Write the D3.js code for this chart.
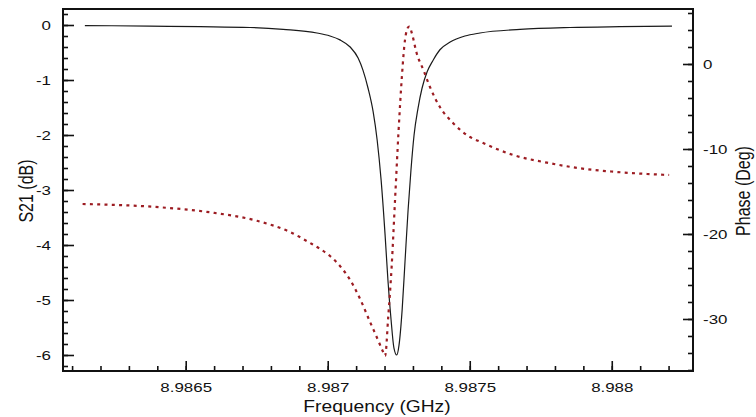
<!DOCTYPE html>
<html>
<head>
<meta charset="utf-8">
<script src="https://cdn.jsdelivr.net/npm/d3@7"></script>
<style>
  body { margin: 0; background: #fff; }
  text { font-family: "Liberation Sans", Arial, Helvetica, sans-serif; fill: #111; }
</style>
</head>
<body>
<script>
// S21 magnitude (dB) vs frequency (GHz)
const s21Freq = [8.986145, 8.986374, 8.98655, 8.986726, 8.986843, 8.986962, 8.987008, 8.987043,
  8.987079, 8.987107, 8.987124, 8.987142, 8.98716, 8.987174, 8.987188, 8.987202, 8.987212,
  8.987223, 8.987233, 8.987243, 8.987251, 8.987262, 8.987272, 8.987283, 8.987293, 8.987304,
  8.987318, 8.987332, 8.98735, 8.987371, 8.987395, 8.987431, 8.987483, 8.987536, 8.987677,
  8.987853, 8.988029, 8.988212];
const s21dB = [-0.01, -0.02, -0.03, -0.045, -0.08, -0.145, -0.2, -0.27,
  -0.4, -0.6, -0.82, -1.15, -1.58, -2.09, -2.82, -3.82, -4.64,
  -5.36, -5.87, -6.0, -5.82, -5.18, -4.31, -3.36, -2.64, -2.0,
  -1.51, -1.15, -0.85, -0.64, -0.45, -0.31, -0.2, -0.145, -0.08,
  -0.045, -0.03, -0.02];

// phase (deg) vs frequency (GHz)
const phaseFreq = [8.986137, 8.98641, 8.986586, 8.98675, 8.986867, 8.986938, 8.986973, 8.987008,
  8.987043, 8.987079, 8.987114, 8.987149, 8.987177, 8.987195, 8.987202, 8.987213, 8.987225,
  8.987237, 8.987249, 8.987261, 8.987272, 8.987284, 8.987288, 8.987296, 8.987313, 8.987337,
  8.98736, 8.987395, 8.987441, 8.987501, 8.987536, 8.987653, 8.987772, 8.987888, 8.988005,
  8.988124, 8.988202];
const phaseDeg = [-16.47, -16.86, -17.45, -18.44, -19.76, -21.06, -21.76, -22.59,
  -23.76, -25.41, -27.65, -30.35, -32.47, -33.88, -34.35, -29.76, -23.88,
  -16.0, -8.12, -1.53, 2.82, 4.35, 4.41, 3.65, 1.29, -0.71,
  -2.71, -5.06, -6.94, -8.59, -9.14, -10.71, -11.61, -12.27, -12.67,
  -12.94, -13.06];

const xTicks = [8.9865, 8.987, 8.9875, 8.988];
const xTickLabels = ["8.9865", "8.987", "8.9875", "8.988"];
const yTicks = [0, -1, -2, -3, -4, -5, -6];
const yTickLabels = ["0", "-1", "-2", "-3", "-4", "-5", "-6"];
const y2Ticks = [0, -10, -20, -30];
const y2TickLabels = ["0", "-10", "-20", "-30"];

const W = 756, H = 417;
const pL = 63, pR = 693, pT = 9, pB = 371;

const svg = d3.select("body").append("svg")
  .attr("width", W)
  .attr("height", H);

const x = d3.scaleLinear().domain([8.986068, 8.988286]).range([pL, pR]);
const y = d3.scaleLinear().domain([-6.291, 0.291]).range([pB, pT]);
const y2 = d3.scaleLinear().domain([-36.12, 6.47]).range([pB, pT]);

function stretch(sel, k) {
  sel.each(function () {
    const w = this.getComputedTextLength();
    d3.select(this).attr("textLength", w * k).attr("lengthAdjust", "spacingAndGlyphs");
  });
}

// minor ticks
svg.append("g").attr("transform", `translate(0,${pB})`)
  .call(d3.axisBottom(x).tickValues(d3.range(8.9861, 8.98829, 0.0001)).tickSize(-5).tickFormat(""))
  .call(g => g.select(".domain").remove());
svg.append("g").attr("transform", `translate(${pL},0)`)
  .call(d3.axisLeft(y).tickValues(d3.range(-6.2, 0.3, 0.2)).tickSize(-5).tickFormat(""))
  .call(g => g.select(".domain").remove());
svg.append("g").attr("transform", `translate(${pR},0)`)
  .call(d3.axisRight(y2).tickValues(d3.range(-36, 7, 2)).tickSize(-5).tickFormat(""))
  .call(g => g.select(".domain").remove());

// major ticks
svg.append("g").attr("transform", `translate(0,${pB})`)
  .call(d3.axisBottom(x).tickValues(xTicks).tickSize(-10).tickPadding(12)
    .tickFormat((d, i) => xTickLabels[i]))
  .call(g => g.select(".domain").remove());
svg.append("g").attr("transform", `translate(${pL},0)`)
  .call(d3.axisLeft(y).tickValues(yTicks).tickSize(-11).tickPadding(12)
    .tickFormat((d, i) => yTickLabels[i]))
  .call(g => g.select(".domain").remove());
svg.append("g").attr("transform", `translate(${pR},0)`)
  .call(d3.axisRight(y2).tickValues(y2Ticks).tickSize(-10).tickPadding(10)
    .tickFormat((d, i) => y2TickLabels[i]))
  .call(g => g.select(".domain").remove());

svg.selectAll(".tick line").attr("stroke", "#111").attr("stroke-width", 1.6);
svg.selectAll(".tick text").attr("font-size", 13).attr("fill", "#111")
  .style("font-family", "'Liberation Sans', Arial, sans-serif");
stretch(svg.selectAll(".tick text"), 1.3);

// curves
const s21Line = d3.line()
  .x((d, i) => x(s21Freq[i]))
  .y(d => y(d))
  .curve(d3.curveMonotoneX);
const phaseLine = d3.line()
  .x((d, i) => x(phaseFreq[i]))
  .y(d => y2(d))
  .curve(d3.curveMonotoneX);

svg.append("path")
  .attr("d", s21Line(s21dB))
  .attr("fill", "none")
  .attr("stroke", "#1a1a1a")
  .attr("stroke-width", 1.2);

svg.append("path")
  .attr("d", phaseLine(phaseDeg))
  .attr("fill", "none")
  .attr("stroke", "#9c1c22")
  .attr("stroke-width", 2.2)
  .attr("stroke-dasharray", "3,4.3");

// frame
svg.append("rect")
  .attr("x", pL).attr("y", pT)
  .attr("width", pR - pL).attr("height", pB - pT)
  .attr("fill", "none").attr("stroke", "#111").attr("stroke-width", 2);

// axis titles
const xt = svg.append("text")
  .attr("x", (pL + pR) / 2 - 1).attr("y", 412)
  .attr("text-anchor", "middle").attr("font-size", 16)
  .text("Frequency (GHz)");
stretch(xt, 1.2);

svg.append("text")
  .attr("transform", "translate(33,191) rotate(-90) scale(1,1.3)")
  .attr("text-anchor", "middle").attr("font-size", 16)
  .text("S21 (dB)");

svg.append("text")
  .attr("transform", "translate(750,191) rotate(-90) scale(1,1.25)")
  .attr("text-anchor", "middle").attr("font-size", 16)
  .text("Phase (Deg)");
</script>
</body>
</html>
